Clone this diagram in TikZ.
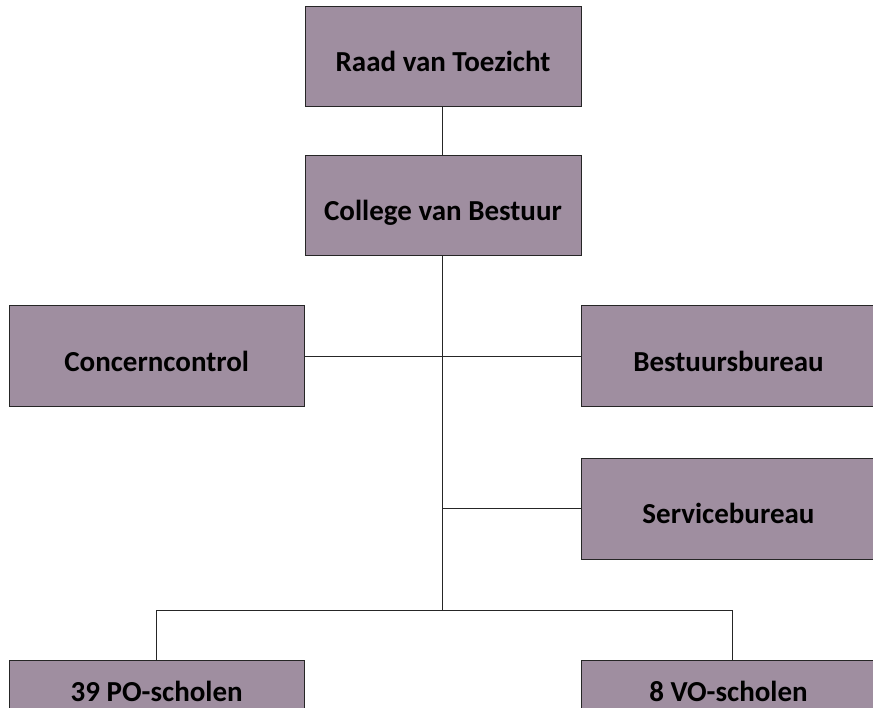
\documentclass[tikz,border=0pt]{standalone}
\usepackage{fontspec}
\setmainfont{Carlito}
\definecolor{orgfill}{RGB}{159,142,160}
\tikzset{
  orgbox/.style={draw=black!85, line width=1pt, fill=orgfill, inner sep=0pt,
    font=\fontsize{29}{34}\selectfont\bfseries, text height=29.5pt, text depth=0pt},
  smallbox/.style={orgbox, minimum width=276pt, minimum height=100pt},
  widebox/.style={orgbox, minimum width=295pt, minimum height=101pt},
  orgline/.style={draw=black!85, line width=1pt}
}
\begin{document}
\begin{tikzpicture}[x=1pt,y=-1pt]
\clip (0,0) rectangle (873,708);
\fill[white] (0,0) rectangle (873,708);
\node[smallbox] (raad) at (443,56.5) {Raad van Toezicht};
\node[smallbox] (college) at (443,206) {College van Bestuur};
\node[widebox] (concern) at (156.7,356.5) {Concerncontrol};
\node[widebox] (bestuur) at (728.5,356.5) {Bestuursbureau};
\node[widebox] (service) at (728.5,508.5) {Servicebureau};
\node[widebox, minimum height=54pt] (po) at (156.7,687) {39 PO-scholen};
\node[widebox, minimum height=54pt] (vo) at (728.5,687) {8 VO-scholen};
\coordinate (split) at (442,610);
\coordinate (vojoin) at (732,610);
\draw[orgline] (raad.south -| split) -- (college.north -| split);
\draw[orgline] (college.south -| split) -- (split);
\draw[orgline] (concern.east) -- (bestuur.west);
\draw[orgline] (service.west -| split) -- (service.west);
\draw[orgline] (po.north) -- (po.north |- split) -- (vojoin) -- (vojoin |- vo.north);
\end{tikzpicture}
\end{document}
